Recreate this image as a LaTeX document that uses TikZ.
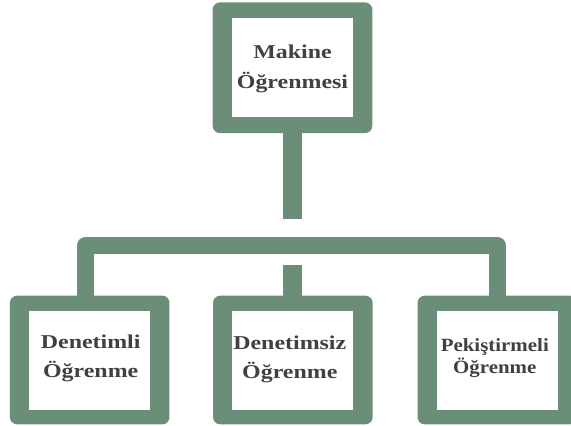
\documentclass[tikz,border=0pt]{standalone}
\usepackage{fontspec}
\setmainfont{Liberation Serif}
\newfontfamily\labelfont[FakeStretch=1.22]{Liberation Serif}
\newfontfamily\narrowlabelfont[FakeStretch=1.12]{Liberation Serif}
\usetikzlibrary{calc,backgrounds}
\definecolor{frame}{RGB}{107,142,120}
\definecolor{ink}{RGB}{64,64,64}

\begin{document}
\begin{tikzpicture}[x=0.75pt,y=-0.75pt,
  card/.style={rectangle, fill=white, inner sep=0pt,
    minimum width=121*0.75pt, minimum height=99*0.75pt},
  caption/.style={align=center, text=ink, inner sep=0pt,
    font=\labelfont\bfseries\fontsize{14.7pt}{21.75pt}\selectfont},
  stem/.style={draw=frame, line width=19*0.75pt, line cap=butt},
  bus/.style={draw=frame, line width=17*0.75pt, line cap=butt, line join=round},
  framefill/.style={fill=frame, rounded corners=5.25pt}]

\useasboundingbox (0,0) rectangle (571,425);
\clip (0,0) rectangle (571,425);

% white inner panels
\node[card, minimum height=98.5*0.75pt] (mk) at (292.5,67.5) {};
\node[card] (dl) at (89.7,360.5) {};
\node[card] (dm) at (292.8,360.5) {};
\node[card] (dr) at (497.3,360.5) {};

% green frames behind the panels
\begin{scope}[on background layer]
  \fill[framefill] ($(mk.north west)+(-19,-15.5)$) rectangle ($(mk.south east)+(19,16)$);
  \foreach \b in {dl,dm,dr}
    \fill[framefill] ($(\b.north west)+(-19,-15)$) rectangle ($(\b.south east)+(19,14)$);
\end{scope}

% connectors
\draw[stem] (mk.south) -- ++(0,101.5);
\draw[bus] ($(dl.north)+(-4.2,0)$) |- ($(mk.south)+(0,128.6)$) -| (dr.north);
\draw[stem] (dm.north) -- ++(0,-46);

% captions
\node[caption, font=\labelfont\bfseries\fontsize{14.7pt}{22.5pt}\selectfont]
  (mk-t) at ($(mk)+(0,1)$) {Makine\\Öğrenmesi};
\node[caption] (dl-t) at ($(dl)+(1,-2.5)$) {Denetimli\\Öğrenme};
\node[caption] (dm-t) at ($(dm)+(-3,-1)$) {Denetimsiz\\Öğrenme};
\node[caption, font=\narrowlabelfont\bfseries\fontsize{14pt}{16.7pt}\selectfont]
  (dr-t) at ($(dr)+(-2.5,-2.6)$) {Pekiştirmeli\\Öğrenme};
\end{tikzpicture}
\end{document}
